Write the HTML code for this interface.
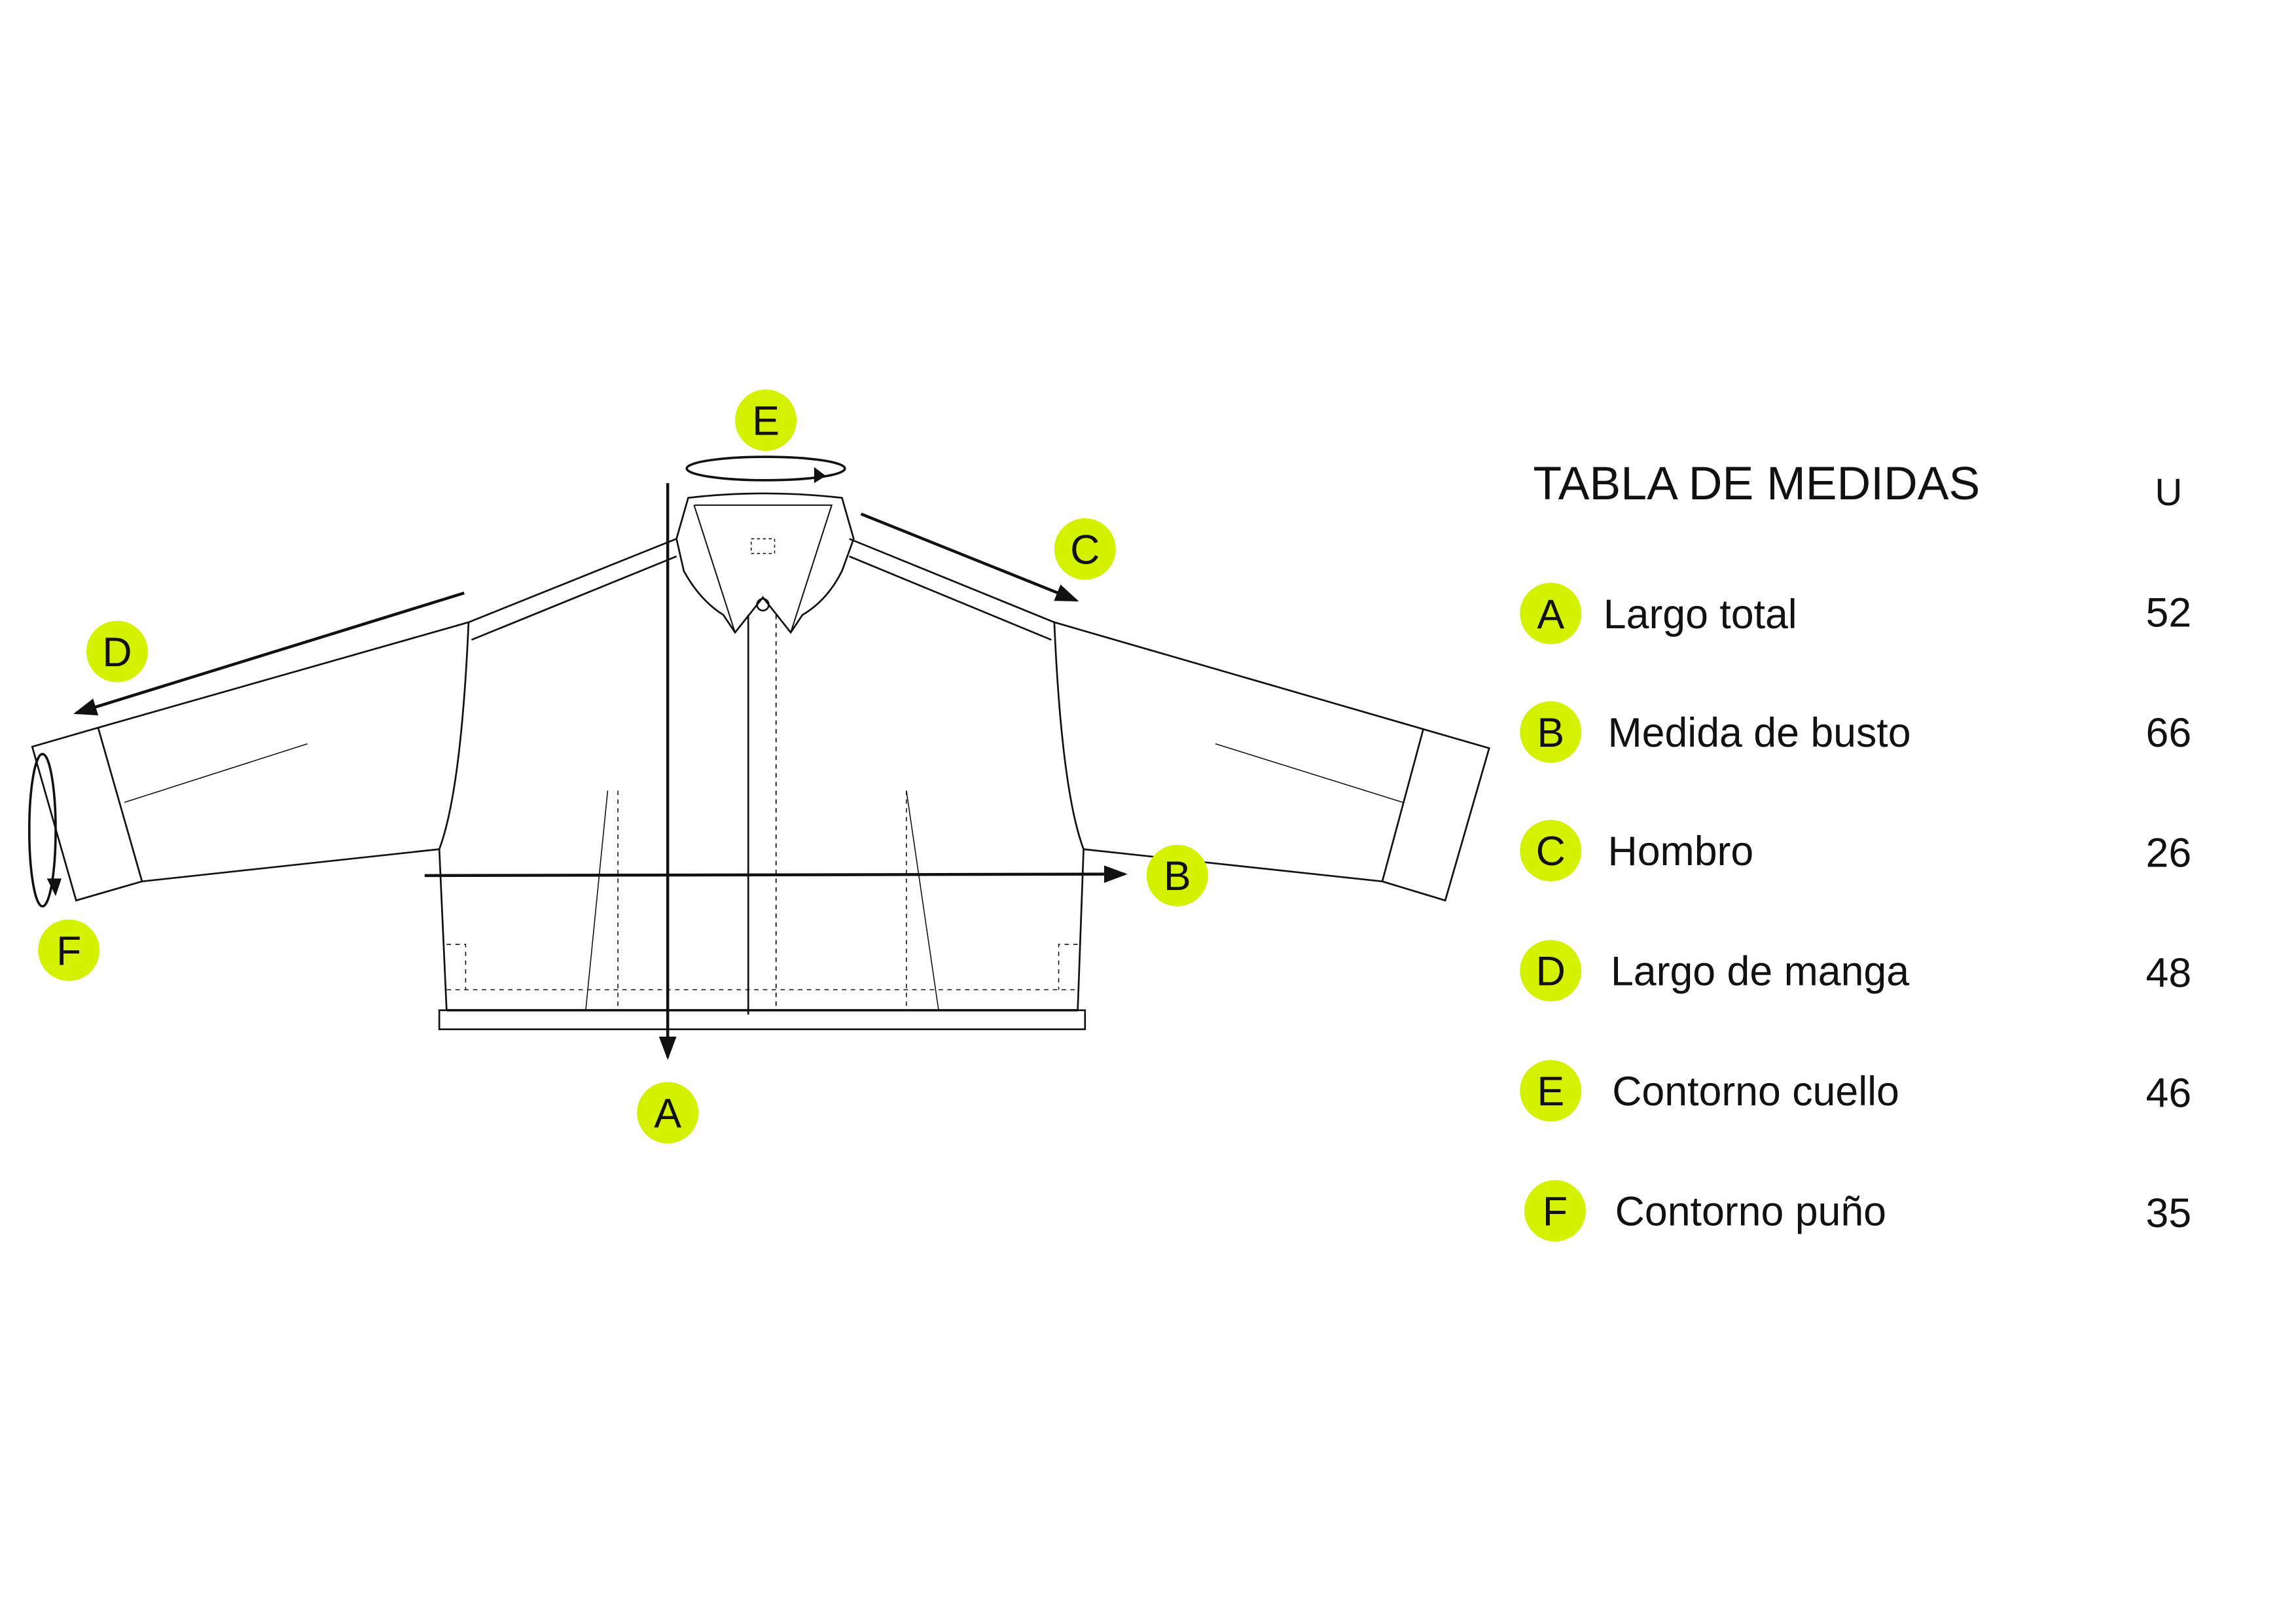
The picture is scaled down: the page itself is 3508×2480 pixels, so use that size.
<!DOCTYPE html>
<html><head><meta charset="utf-8"><style>
html,body{margin:0;padding:0;background:#fff}
svg{display:block}
text{font-family:"Liberation Sans",sans-serif;fill:#111}
</style></head><body>
<svg width="3508" height="2480" viewBox="0 0 1568 1108.5" xmlns="http://www.w3.org/2000/svg">
<defs><marker id="ah2" markerWidth="16" markerHeight="12" refX="14" refY="6" orient="auto" markerUnits="userSpaceOnUse"><path d="M0,0 L16,6 L0,12 z" fill="#111"/></marker></defs>
<g fill="none" stroke="#111" stroke-width="1.2">
<path d="M462,368 L320,425 L67,497"/>
<path d="M462,380 L322,437"/>
<polygon points="22,510 67,497 97,602 52,615"/>
<path d="M97,602 L300,580"/>
<path d="M320,425 Q315,540 300,580 L305,690"/>
<path d="M85,548 L210,508" stroke-width="0.7"/>
<path d="M580,368 L720,425 L972,498"/>
<path d="M580,380 L718,437"/>
<polygon points="972,498 1017,511 987,615 944,602"/>
<path d="M944,602 L740,580"/>
<path d="M720,425 Q725,540 740,580 L736,690"/>
<path d="M830,508 L958,548" stroke-width="0.7"/>
<path d="M470,340 Q521,334 575,340 L583,368 L575,390 Q565,410 548,420 L540,432 L521,408 L502,432 L494,420 Q478,410 467,390 L462,368 Z"/>
<path d="M474,345 L568,345 L540,432 M474,345 L502,432" stroke-width="0.9"/>
<circle cx="521" cy="413" r="4"/>
<rect x="513" y="368" width="16" height="10" stroke-dasharray="2,2" stroke-width="0.7"/>
<rect x="300" y="690" width="441" height="13"/>
<path d="M305,690 L736,690" stroke-width="1.6"/>
<path d="M305,676 L736,676" stroke-dasharray="3,3" stroke-width="0.7"/>
<path d="M305,645 L318,645 L318,676 M736,645 L723,645 L723,676" stroke-dasharray="3,3" stroke-width="0.7"/>
<path d="M511,420 L511,693"/>
<path d="M530,420 L530,690" stroke-dasharray="3,3" stroke-width="0.8"/>
<path d="M415,540 L400,690 M619,540 L641,690" stroke-width="0.7"/>
<path d="M422,540 L422,690 M619,540 L619,690" stroke-dasharray="3,3" stroke-width="0.7"/>
</g>
<g stroke="#111" stroke-width="2" fill="none">
<path d="M456,330 L456,722" marker-end="url(#ah2)"/>
<path d="M290,598 L768,597" marker-end="url(#ah2)"/>
<path d="M588,351 L735,410" marker-end="url(#ah2)"/>
<path d="M317,405 L52,487" marker-end="url(#ah2)"/>
<ellipse cx="523" cy="320" rx="54" ry="8" stroke-width="1.6"/>
<ellipse cx="29" cy="567" rx="9" ry="52" stroke-width="1.6"/>
</g>
<path d="M556,319 L564,325 L556,330 z" fill="#111"/>
<path d="M32,600 L38,612 L42,600 z" fill="#111"/>
<g fill="#d4f200">
<circle cx="523" cy="287" r="21"/><circle cx="741" cy="375" r="21"/><circle cx="80" cy="445" r="21"/>
<circle cx="47" cy="649" r="21"/><circle cx="804" cy="598" r="21"/><circle cx="456" cy="760" r="21"/>
<circle cx="1059" cy="419" r="21"/><circle cx="1059" cy="500" r="21"/><circle cx="1059" cy="581" r="21"/>
<circle cx="1059" cy="663" r="21"/><circle cx="1059" cy="745" r="21"/><circle cx="1062" cy="827" r="21"/>
</g>
<g font-size="28" text-anchor="middle">
<text x="523" y="297">E</text><text x="741" y="385">C</text><text x="80" y="455">D</text>
<text x="47" y="659">F</text><text x="804" y="608">B</text><text x="456" y="770">A</text>
<text x="1059" y="429">A</text><text x="1059" y="510">B</text><text x="1059" y="591">C</text>
<text x="1059" y="673">D</text><text x="1059" y="755">E</text><text x="1062" y="837">F</text>
</g>
<text x="1047" y="341" font-size="32">TABLA DE MEDIDAS</text>
<text x="1481" y="345" font-size="26" text-anchor="middle">U</text>
<g font-size="28">
<text x="1095" y="429">Largo total</text>
<text x="1098" y="510">Medida de busto</text>
<text x="1098" y="591">Hombro</text>
<text x="1100" y="673">Largo de manga</text>
<text x="1101" y="755">Contorno cuello</text>
<text x="1103" y="837">Contorno puño</text>
</g>
<g font-size="28" text-anchor="middle">
<text x="1481" y="428">52</text><text x="1481" y="510">66</text><text x="1481" y="592">26</text>
<text x="1481" y="674">48</text><text x="1481" y="756">46</text><text x="1481" y="838">35</text>
</g>
</svg>
</body></html>
